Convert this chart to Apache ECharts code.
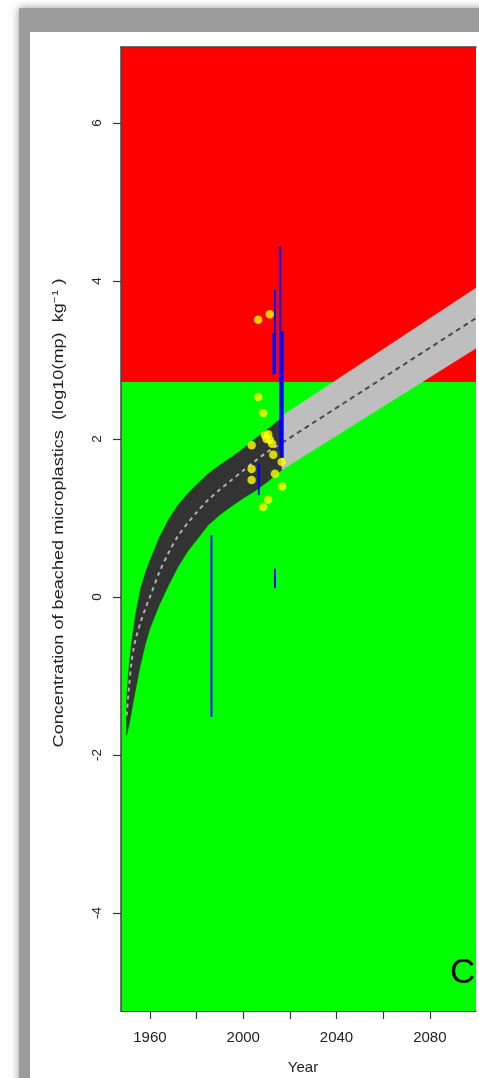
<!DOCTYPE html>
<html><head><meta charset="utf-8">
<script src="https://cdn.jsdelivr.net/npm/echarts@6/dist/echarts.min.js"></script>
<style>html,body{margin:0;padding:0;background:#fff;}#c{width:479px;height:1078px;}</style>
</head><body><div id="c"></div>
<script>
// ---- data ----
const bandYears  = [1950, 1951, 1952, 1953, 1954, 1956, 1958, 1960, 1964, 1968, 1972, 1976, 1980, 1985, 1990, 1995, 2000, 2005, 2010, 2016.6];
const bandLower  = [-1.75, -1.62, -1.47, -1.30, -1.15, -0.85, -0.60, -0.40, -0.10, 0.15, 0.38, 0.57, 0.72, 0.91, 1.04, 1.15, 1.25, 1.34, 1.45, 1.61];
const bandUpper  = [-1.30, -0.90, -0.62, -0.40, -0.20, 0.10, 0.30, 0.46, 0.75, 0.98, 1.16, 1.30, 1.42, 1.56, 1.67, 1.77, 1.88, 2.00, 2.11, 2.27];
const bandCentre = [-1.50, -1.15, -0.85, -0.65, -0.52, -0.32, -0.15, 0.00, 0.31, 0.56, 0.77, 0.93, 1.07, 1.23, 1.36, 1.48, 1.60, 1.72, 1.83, 1.95];

const projYears  = [2016.6, 2099.8];
const projLower  = [1.61, 3.15];
const projUpper  = [2.29, 3.91];
const projCentre = [1.95, 3.53];

const pointYears  = [2006.4, 2011.4, 2006.4, 2008.6, 2003.6, 2009.3, 2010.7, 2010.0, 2011.4, 2012.4, 2012.9, 2016.5, 2003.6, 2003.6, 2013.6, 2016.7, 2010.7, 2008.6];
const pointValues = [3.51, 3.58, 2.53, 2.33, 1.92, 2.05, 2.06, 2.00, 1.99, 1.94, 1.80, 1.71, 1.62, 1.48, 1.56, 1.40, 1.23, 1.14];

const rangeYears = [1986.4, 2013.6, 2006.7, 2013.6, 2012.9, 2015.9];
const rangeLow   = [-1.52, 0.11, 1.29, 2.83, 2.81, 1.86];
const rangeHigh  = [0.78, 0.36, 1.69, 3.89, 3.34, 4.44];

const wideRangeYears = [2016.6];
const wideRangeLow   = [1.76];
const wideRangeHigh  = [3.36];

const threshold = 2.72;
const xMin = 1947.6, xMax = 2099.8, yMin = -5.241, yMax = 6.962;

const xTicks  = [1960, 1980, 2000, 2020, 2040, 2060, 2080, 2100];
const xLabels = [1960, 2000, 2040, 2080];
const yTicks  = [-4, -2, 0, 2, 4, 6];

// ---- chart ----
const FONT = '"Liberation Sans", Arial, sans-serif';
const chart = echarts.init(document.getElementById('c'));

function pairs(xs, ys) { return xs.map((x, i) => [x, ys[i]]); }

function bandSeries(name, xs, lo, hi, color, z) {
  return {
    name, type: 'custom', z, silent: true, clip: true,
    data: [[xs[0], lo[0]]],
    renderItem: function (params, api) {
      const pts = [];
      for (let i = 0; i < xs.length; i++) pts.push(api.coord([xs[i], hi[i]]));
      for (let i = xs.length - 1; i >= 0; i--) pts.push(api.coord([xs[i], lo[i]]));
      return { type: 'polygon', shape: { points: pts }, style: { fill: color, stroke: color, lineWidth: 0.5 } };
    }
  };
}

function segSeries(name, xs, lo, hi, width) {
  return {
    name, type: 'custom', z: 6, silent: true,
    data: xs.map((x, i) => [x, lo[i], hi[i]]),
    renderItem: function (params, api) {
      const a = api.coord([api.value(0), api.value(1)]);
      const b = api.coord([api.value(0), api.value(2)]);
      return { type: 'line', shape: { x1: a[0], y1: a[1], x2: b[0], y2: b[1] },
               style: { stroke: '#0000ff', lineWidth: width } };
    }
  };
}

const option = {
  animation: false,
  backgroundColor: 'transparent',
  grid: { left: 121, top: 47, width: 355, height: 964 },
  xAxis: [{
    type: 'value', min: xMin, max: xMax, z: 10,
    axisLine: { show: true, onZero: false, lineStyle: { color: '#333', width: 1.2 } },
    axisTick: { show: true, length: 8, customValues: xTicks, lineStyle: { color: '#333', width: 1.2 } },
    axisLabel: { customValues: xLabels, fontSize: 15, color: '#222', margin: 19, fontFamily: FONT,
                 formatter: v => String(v) },
    splitLine: { show: false }
  }, {
    type: 'value', position: 'top', min: xMin, max: xMax, z: 10,
    axisLine: { show: true, onZero: false, lineStyle: { color: '#444', width: 1.5 } },
    axisTick: { show: false }, axisLabel: { show: false }, splitLine: { show: false }
  }],
  yAxis: {
    type: 'value', min: yMin, max: yMax, z: 10,
    axisLine: { show: true, onZero: false, lineStyle: { color: '#444', width: 1.5 } },
    axisTick: { show: true, length: 8, customValues: yTicks, lineStyle: { color: '#333', width: 1.2 } },
    axisLabel: { customValues: yTicks, rotate: 90, fontSize: 13.5, color: '#222', margin: 17, fontFamily: FONT },
    splitLine: { show: false }
  },
  series: [
    { name: 'zones', type: 'custom', z: 0, silent: true,
      data: [[threshold]],
      renderItem: function (params, api) {
        const t = api.value(0);
        const tl = api.coord([xMin, yMax]), tm = api.coord([xMax, t]), br = api.coord([xMax, yMin]);
        return { type: 'group', children: [
          { type: 'rect', shape: { x: tl[0], y: tl[1], width: tm[0] - tl[0], height: tm[1] - tl[1] }, style: { fill: '#ff0000' } },
          { type: 'rect', shape: { x: tl[0], y: tm[1], width: br[0] - tl[0], height: br[1] - tm[1] }, style: { fill: '#00ff00' } }
        ] };
      } },
    bandSeries('histBand', bandYears, bandLower, bandUpper, '#333333', 2),
    bandSeries('projBand', projYears, projLower, projUpper, '#bebebe', 2),
    { name: 'histCentre', type: 'line', z: 3, smooth: 0.3, showSymbol: false, silent: true,
      lineStyle: { color: '#b0b0b0', width: 2, type: [4, 4] }, data: pairs(bandYears, bandCentre) },
    { name: 'projCentre', type: 'line', z: 3, showSymbol: false, silent: true,
      lineStyle: { color: '#4a4a4a', width: 2, type: [5, 4] }, data: pairs(projYears, projCentre) },
    segSeries('ranges', rangeYears, rangeLow, rangeHigh, 2),
    segSeries('wideRanges', wideRangeYears, wideRangeLow, wideRangeHigh, 3.5),
    { name: 'obs', type: 'scatter', z: 7, silent: true, symbolSize: 8.5,
      itemStyle: { color: '#ffff00' }, data: pairs(pointYears, pointValues) }
  ],
  graphic: [
    { type: 'rect', z: -20, silent: true, shape: { x: 19, y: 8, width: 480, height: 1090 },
      style: { fill: '#9c9c9c', shadowBlur: 8, shadowColor: 'rgba(120,120,120,0.8)' } },
    { type: 'rect', z: -19, silent: true, shape: { x: 30, y: 32, width: 460, height: 1060 },
      style: { fill: '#ffffff' } },
    { type: 'text', z: 20, silent: true, x: 59, y: 513, rotation: Math.PI / 2, scaleX: 1.25,
      style: { text: 'Concentration of beached microplastics  (log10(mp)  kg{sup|\u22121} )',
               fontSize: 14.5, fontFamily: FONT, fill: '#222', align: 'center', verticalAlign: 'middle',
               rich: { sup: { fontSize: 9.5, fontFamily: FONT, fill: '#222', padding: [0, 0, 8, 0] } } } },
    { type: 'text', z: 20, silent: true, x: 303, y: 1068,
      style: { text: 'Year', fontSize: 15, fontFamily: FONT, fill: '#222', align: 'center', verticalAlign: 'middle' } },
    { type: 'text', z: 20, silent: true, x: 450, y: 973,
      style: { text: 'C', fontSize: 35, fontFamily: FONT, fill: '#000', align: 'left', verticalAlign: 'middle' } }
  ]
};
chart.setOption(option);
</script>
</body></html>
